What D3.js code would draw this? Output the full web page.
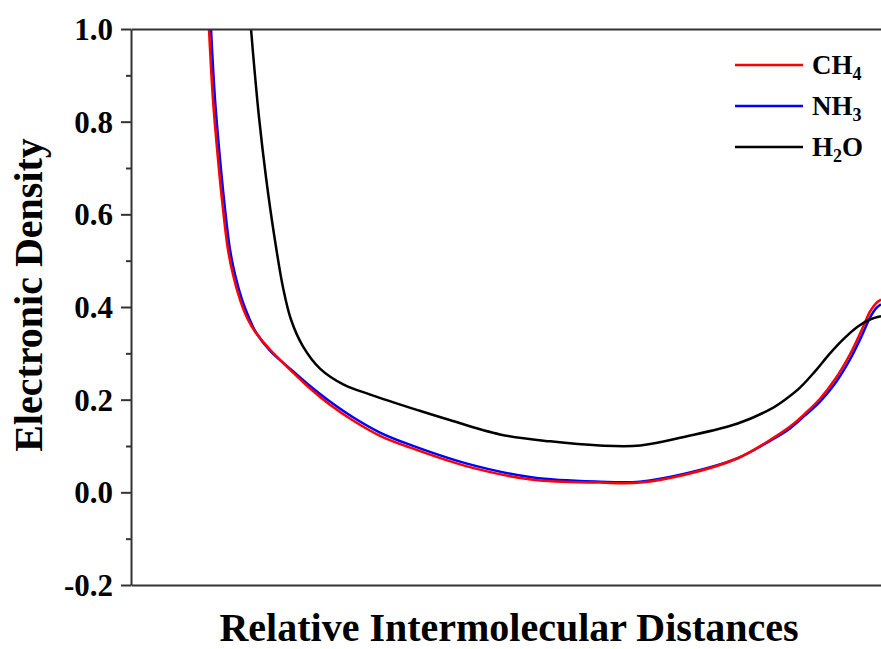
<!DOCTYPE html>
<html>
<head>
<meta charset="utf-8">
<script src="https://cdn.jsdelivr.net/npm/d3@7"></script>
<style>
  body { margin: 0; background: #fff; }
  svg text { font-family: "Liberation Serif", "Times New Roman", serif; font-weight: bold; fill: #000; }
</style>
</head>
<body>
<svg id="chart" width="881" height="649"></svg>
<script>
// values (x in relative units 0..10 across the visible plot)
const xsCH4 = [1.04, 1.093, 1.16, 1.213, 1.293, 1.36, 1.453, 1.547, 1.653, 1.853, 2.12, 2.347, 2.653, 2.96, 3.32, 3.68, 4.48, 5.36, 6.253, 6.787, 7.413, 8.08, 8.52, 8.787, 8.987, 9.187, 9.387, 9.587, 9.747, 9.853, 9.933, 10.0];
const ch4   = [1.0, 0.848, 0.719, 0.632, 0.524, 0.470, 0.416, 0.377, 0.347, 0.308, 0.265, 0.230, 0.189, 0.155, 0.122, 0.099, 0.056, 0.027, 0.021, 0.021, 0.039, 0.073, 0.113, 0.142, 0.170, 0.202, 0.244, 0.298, 0.352, 0.390, 0.408, 0.416];

const xsNH3 = [1.067, 1.12, 1.187, 1.24, 1.32, 1.387, 1.48, 1.573, 1.667, 1.853, 2.12, 2.347, 2.653, 2.96, 3.32, 3.68, 4.48, 5.36, 6.253, 6.787, 7.413, 8.08, 8.52, 8.787, 8.987, 9.187, 9.387, 9.587, 9.747, 9.853, 9.933, 10.0];
const nh3   = [1.0, 0.848, 0.719, 0.632, 0.524, 0.470, 0.416, 0.377, 0.345, 0.306, 0.267, 0.235, 0.196, 0.162, 0.129, 0.105, 0.062, 0.032, 0.023, 0.023, 0.041, 0.073, 0.111, 0.138, 0.166, 0.196, 0.235, 0.287, 0.339, 0.377, 0.397, 0.406];

const xsH2O = [1.6, 1.64, 1.707, 1.80, 1.907, 2.027, 2.133, 2.293, 2.52, 2.83, 3.19, 3.85, 4.25, 4.92, 5.59, 6.25, 6.79, 7.413, 8.08, 8.52, 8.72, 8.92, 9.12, 9.32, 9.52, 9.693, 9.853, 10.0];
const h2o   = [1.0, 0.924, 0.809, 0.680, 0.557, 0.442, 0.373, 0.315, 0.267, 0.233, 0.211, 0.176, 0.156, 0.125, 0.110, 0.101, 0.101, 0.121, 0.148, 0.179, 0.200, 0.226, 0.261, 0.300, 0.334, 0.358, 0.373, 0.380];

const seriesNames = ["CH4", "NH3", "H2O"];
const yTicks = [-0.2, 0.0, 0.2, 0.4, 0.6, 0.8, 1.0];
const yMinor = [-0.1, 0.1, 0.3, 0.5, 0.7, 0.9];

const svg = d3.select('#chart');
const margin = {top: 29, left: 131, bottom: 64};
const plotW = 881 - margin.left;
const plotH = 649 - margin.top - margin.bottom;

const x = d3.scaleLinear().domain([0, 10]).range([0, plotW]);
const y = d3.scaleLinear().domain([-0.2, 1.0]).range([plotH, 0]);

const g = svg.append('g')
    .attr('transform', 'translate(' + margin.left + ',' + margin.top + ')');

g.append('clipPath').attr('id', 'clip')
  .append('rect').attr('x', 0).attr('y', 0).attr('width', plotW + 20).attr('height', plotH);

const line = d3.line()
    .x(function(d) { return x(d[0]); })
    .y(function(d) { return y(d[1]); })
    .curve(d3.curveCatmullRom.alpha(0.5));

const series = [
  {name: "NH3", xs: xsNH3, ys: nh3, color: "#0000ff"},
  {name: "CH4", xs: xsCH4, ys: ch4, color: "#ff0000"},
  {name: "H2O", xs: xsH2O, ys: h2o, color: "#000000"}
];

g.append('g').attr('clip-path', 'url(#clip)')
  .selectAll('path')
  .data(series)
  .enter().append('path')
    .attr('fill', 'none')
    .attr('stroke', function(d) { return d.color; })
    .attr('stroke-width', 2.5)
    .attr('d', function(d) { return line(d.xs.map(function(v, i) { return [v, d.ys[i]]; })); });

// axes
const axisColor = '#333';

const yAxis = g.append('g')
    .call(d3.axisLeft(y).tickValues(yTicks).tickSize(10).tickSizeOuter(0).tickPadding(8)
          .tickFormat(function(d) { return d.toFixed(1); }));
yAxis.select('.domain').attr('stroke', axisColor).attr('stroke-width', 2);
yAxis.selectAll('.tick line').attr('stroke', axisColor).attr('stroke-width', 2);
yAxis.selectAll('.tick text').style('font-size', '31px').attr('dy', '0.34em');

g.append('g')
    .call(d3.axisLeft(y).tickValues(yMinor).tickSize(5).tickSizeOuter(0).tickFormat(''))
  .call(function(s) {
    s.select('.domain').remove();
    s.selectAll('.tick line').attr('stroke', axisColor).attr('stroke-width', 2);
  });

const xAxis = g.append('g')
    .attr('transform', 'translate(0,' + plotH + ')')
    .call(d3.axisBottom(x).tickValues([]).tickSizeOuter(0));
xAxis.select('.domain').attr('stroke', axisColor).attr('stroke-width', 2);

const topAxis = g.append('g')
    .call(d3.axisTop(x).tickValues([]).tickSizeOuter(0));
topAxis.select('.domain').attr('stroke', axisColor).attr('stroke-width', 2);

// titles
svg.append('text')
    .attr('x', 509).attr('y', 641)
    .attr('text-anchor', 'middle')
    .style('font-size', '40px')
    .text('Relative Intermolecular Distances');

svg.append('text')
    .attr('transform', 'translate(42,295) rotate(-90)')
    .attr('text-anchor', 'middle')
    .style('font-size', '40px')
    .text('Electronic Density');

// legend
const legendColors = {"CH4": "#ff0000", "NH3": "#0000ff", "H2O": "#000000"};
const legend = svg.append('g').attr('transform', 'translate(735,65)');
const items = legend.selectAll('g')
    .data(seriesNames)
  .enter().append('g')
    .attr('transform', function(d, i) { return 'translate(0,' + (i * 41) + ')'; });

items.append('line')
    .attr('x1', 0).attr('x2', 68)
    .attr('stroke', function(d) { return legendColors[d]; })
    .attr('stroke-width', 2.5);

const labels = items.append('text')
    .attr('x', 77).attr('y', 9)
    .style('font-size', '27px');

labels.each(function(d) {
  const t = d3.select(this);
  if (d === 'H2O') {
    t.append('tspan').text('H');
    t.append('tspan').attr('dy', 6).style('font-size', '18px').text('2');
    t.append('tspan').attr('dy', -6).text('O');
  } else {
    t.append('tspan').text(d.slice(0, 2));
    t.append('tspan').attr('dy', 6).style('font-size', '18px').text(d.slice(2));
  }
});
</script>
</body>
</html>
